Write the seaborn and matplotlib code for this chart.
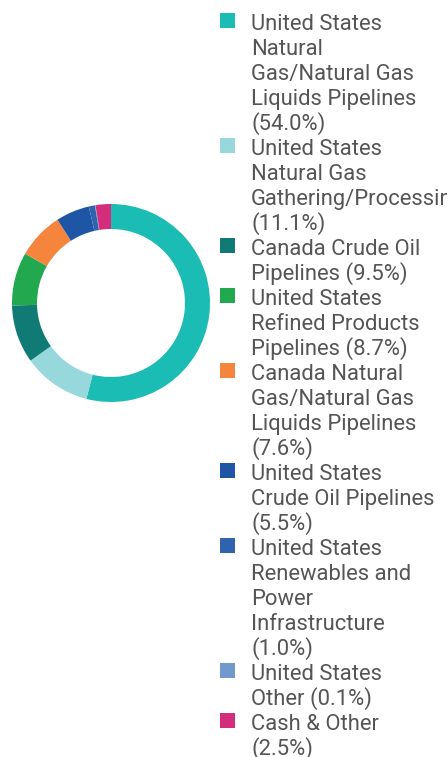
import matplotlib
matplotlib.use("Agg")
import matplotlib.pyplot as plt
import seaborn as sns
from matplotlib.patches import Rectangle

sns.set_theme(style="white")
plt.rcParams['font.family'] = ['Roboto', 'DejaVu Sans']

categories = [
    "United States Natural Gas/Natural Gas Liquids Pipelines",
    "United States Natural Gas Gathering/Processing",
    "Canada Crude Oil Pipelines",
    "United States Refined Products Pipelines",
    "Canada Natural Gas/Natural Gas Liquids Pipelines",
    "United States Crude Oil Pipelines",
    "United States Renewables and Power Infrastructure",
    "United States Other",
    "Cash & Other",
]
values = [54.0, 11.1, 9.5, 8.7, 7.6, 5.5, 1.0, 0.1, 2.5]
legend_lines = [
    ["United States", "Natural", "Gas/Natural Gas", "Liquids Pipelines", "(54.0%)"],
    ["United States", "Natural Gas", "Gathering/Processing", "(11.1%)"],
    ["Canada Crude Oil", "Pipelines (9.5%)"],
    ["United States", "Refined Products", "Pipelines (8.7%)"],
    ["Canada Natural", "Gas/Natural Gas", "Liquids Pipelines", "(7.6%)"],
    ["United States", "Crude Oil Pipelines", "(5.5%)"],
    ["United States", "Renewables and", "Power", "Infrastructure", "(1.0%)"],
    ["United States", "Other (0.1%)"],
    ["Cash & Other", "(2.5%)"],
]
colors = ["#1BBCB4", "#97D8DC", "#0F7B74", "#22A84F", "#F5843C",
          "#1F55A5", "#2F63AE", "#7199CD", "#D42D7B"]

W, H = 447, 757
fig = plt.figure(figsize=(W / 100, H / 100), dpi=100)
fig.patch.set_facecolor("white")

cx, cy, R = 111, 303, 99
ax = fig.add_axes([(cx - R) / W, (H - cy - R) / H, 2 * R / W, 2 * R / H])
ax.pie(values, colors=colors, startangle=90, counterclock=False,
       wedgeprops=dict(width=25 / R, edgecolor="none"), radius=1)
ax.set_xlim(-1, 1)
ax.set_ylim(-1, 1)
ax.set_aspect("equal")
ax.axis("off")

line_h = 25.0
first_base = 30.0
text_x = 251
k = 0
for lines, col in zip(legend_lines, colors):
    top = 13 + line_h * k
    fig.patches.append(Rectangle((220 / W, (H - top - 15) / H), 15 / W, 15 / H,
                                 transform=fig.transFigure, facecolor=col,
                                 edgecolor="none"))
    for ln in lines:
        fig.text(text_x / W, (H - (first_base + line_h * k)) / H, ln,
                 fontsize=15.8, color="#555555", va="baseline", ha="left")
        k += 1

fig.savefig("out.png", dpi=100)
